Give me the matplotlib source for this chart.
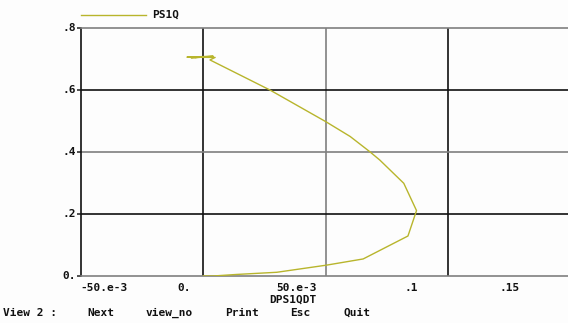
import matplotlib
matplotlib.use("Agg")
import matplotlib.pyplot as plt

W, H = 568, 323

# Trajectory PS1Q against its derivative DPS1QDT
dps1qdt = [0.0, 0.004, 0.0136, 0.030, 0.0503, 0.0653, 0.0836, 0.0871, 0.0819,
           0.0721, 0.068, 0.060, 0.050, 0.0272, 0.0027, 0.0048, -0.0067,
           0.0040, -0.0050, 0.0030, -0.0035, 0.0015, 0.0]
ps1q = [0.0, 0.0, 0.005, 0.012, 0.035, 0.055, 0.129, 0.211, 0.299,
        0.374, 0.401, 0.45, 0.498, 0.600, 0.697, 0.705, 0.706,
        0.709, 0.704, 0.707, 0.705, 0.706, 0.705]

x_ticks = [-0.05, 0.0, 0.05, 0.1, 0.15]
y_ticks = [0.0, 0.2, 0.4, 0.6, 0.8]
y_tick_labels = ["0.", ".2", ".4", ".6", ".8"]
x_tick_labels = ["-50.e-3", "0.", "50.e-3", ".1", ".15"]
menu_items = ["View 2 :", "Next", "view_no", "Print", "Esc", "Quit"]

LINE = "#b8b52c"
FONT = dict(family="DejaVu Sans Mono", fontsize=8, fontweight="bold", color="#111111")


def fx(px):
    return px / W


def fy(py):
    return 1 - py / H


fig = plt.figure(figsize=(W / 100, H / 100), dpi=100)
fig.patch.set_facecolor("#fdfdfd")
ax = fig.add_axes([fx(81), fy(276), fx(568) - fx(81), fy(28) - fy(276)])
ax.set_facecolor("#fdfdfd")
ax.set_xlim(-0.05, 0.149)
ax.set_ylim(0, 0.8)

# grid: some lines black, some grey
for xv, c in zip([0.0, 0.05, 0.1], ["#111111", "#808080", "#111111"]):
    ax.axvline(xv, color=c, lw=1.2, zorder=1)
for yv, c in zip([0.2, 0.4, 0.6], ["#111111", "#808080", "#111111"]):
    ax.axhline(yv, color=c, lw=1.2, zorder=1)

ax.plot(dps1qdt, ps1q, color=LINE, lw=1.0, zorder=3)

for side in ["right"]:
    ax.spines[side].set_visible(False)
ax.spines["left"].set_color("#111111")
ax.spines["top"].set_color("#808080")
ax.spines["bottom"].set_color("#808080")
for s in ["left", "top", "bottom"]:
    ax.spines[s].set_linewidth(1.2)

ax.set_xticks([])
ax.set_yticks(y_ticks)
ax.set_yticklabels([])
ax.tick_params(axis="y", length=3, width=1.2, color="#333333", direction="out")

# y labels
for yv, lab in zip(y_ticks, y_tick_labels):
    py = 276 - yv / 0.2 * 62
    fig.text(fx(76), fy(py), lab, ha="right", va="center", **FONT)

# x labels
for px, lab in zip([104, 184, 297, 411, 510], x_tick_labels):
    fig.text(fx(px), fy(288), lab, ha="center", va="center", **FONT)
fig.text(fx(293), fy(300), "DPS1QDT", ha="center", va="center", **FONT)

# legend
fig.add_artist(plt.Line2D([fx(81), fx(146)], [fy(15), fy(15)], color=LINE, lw=1.0))
fig.text(fx(152), fy(15), "PS1Q", ha="left", va="center", **FONT)

# bottom menu bar
for px, lab in zip([3, 87, 146, 225, 290, 343], menu_items):
    fig.text(fx(px), fy(313), lab, ha="left", va="center", **FONT)

fig.savefig("out.png", dpi=100, facecolor=fig.get_facecolor())
